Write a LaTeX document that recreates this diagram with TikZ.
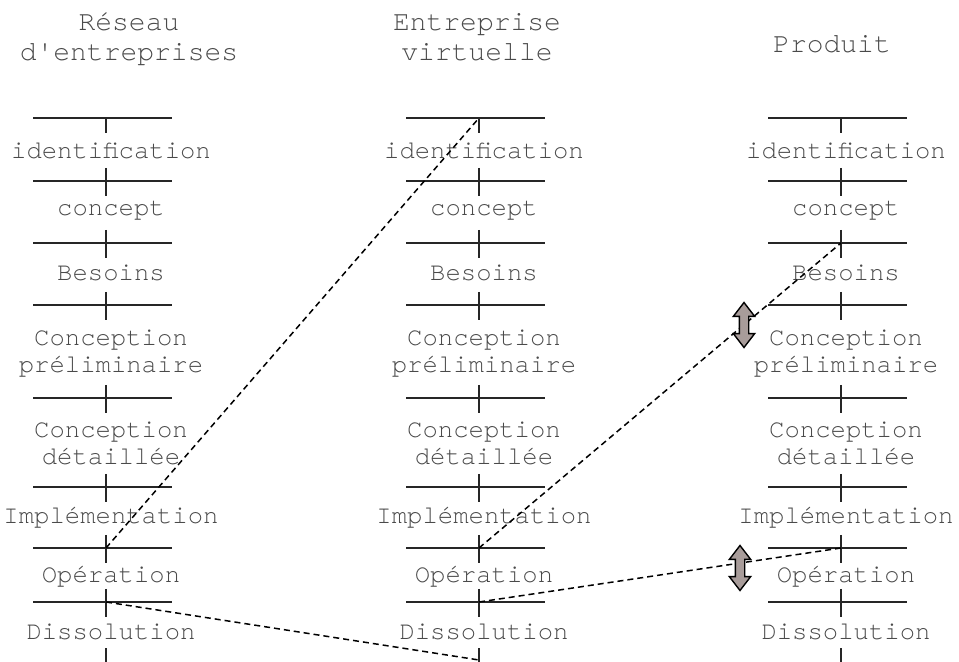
\documentclass[tikz,border=0pt]{standalone}
\usepackage{fontspec}
\setmonofont{TeX Gyre Cursor}
\usetikzlibrary{shapes.arrows}

\tikzstyle{phase-label}=[font=\ttfamily\fontsize{12.8}{13.5}\selectfont, text=TextGrey, align=center, inner sep=0pt]
\tikzstyle{column-title}=[font=\ttfamily\fontsize{14}{15}\selectfont, text=TextGrey, align=center, inner sep=0pt]
\tikzstyle{phase-bar}=[line width=0.9pt, draw=black!85]
\tikzstyle{link}=[dash pattern=on 3pt off 2pt, line width=0.75pt]
\tikzstyle{shift-arrow}=[double arrow, draw, fill=ArrowFill, rotate=90, minimum height=22.5pt, minimum width=10pt, double arrow head extend=3pt, double arrow tip angle=75, inner xsep=0pt, inner ysep=2pt, line width=0.7pt]
\definecolor{TextGrey}{HTML}{4a4a4a}
\definecolor{ArrowFill}{HTML}{a89c9a}

\begin{document}
\begin{tikzpicture}[x=0.5pt, y=-0.5pt]
      \useasboundingbox (0,0) rectangle (959,662);

      % column titles
      \node (title-reseau) at (129,39) [column-title] {Réseau\\d'entreprises};
      \node (title-entreprise) at (477,37) [column-title] {Entreprise\\virtuelle};
      \node (title-produit) at (832,44) [column-title] {Produit};

      % phase bars and ticks
      \foreach \col/\x in {reseau/106, entreprise/479, produit/841} {
        \foreach \y [count=\i from 0] in {118,181,243,305,398,487,548,602} {
          \coordinate (\col-\i) at (\x,\y);
          \draw[phase-bar] (\x-73,\y) -- (\x+66,\y);
        }
        \coordinate (\col-end) at (\x,660);
        \draw[phase-bar] (\col-0) -- +(0,15);
        \foreach \i in {1,...,7}
          \draw[phase-bar] (\col-\i) +(0,-13) -- +(0,15);
        \draw[phase-bar] (\x,648) -- (\x,662);

        % phase names
        \foreach \txt/\y [count=\j] in {identification/151, concept/211, Besoins/273,
            {Conception\\préliminaire}/354, {Conception\\détaillée}/443,
            Implémentation/518, Opération/577, Dissolution/632}
          \node (\col-phase\j) at (\x+5,\y) [phase-label] {\txt};
      }

      % links between life cycles
      \draw[link] (reseau-6) -- (entreprise-0);
      \draw[link] (reseau-7) -- (entreprise-end);
      \draw[link] (entreprise-6) -- (produit-2);
      \draw[link] (entreprise-7) -- (produit-6);

      % shifts
      \node (shift-1) at (744,325) [shift-arrow] {};
      \node (shift-2) at (740,568) [shift-arrow] {};
    \end{tikzpicture}
\end{document}
